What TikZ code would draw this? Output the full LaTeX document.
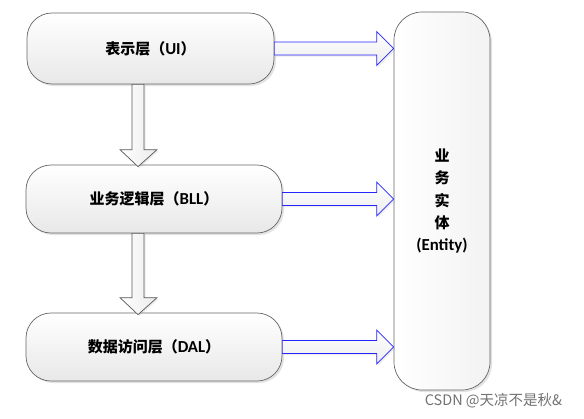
\documentclass[tikz,border=0pt]{standalone}
\usepackage{fontspec}
\setmainfont[Scale=1.12]{Carlito}
\newfontfamily\cjk{Noto Sans CJK SC}
\usetikzlibrary{shadows,calc}
\tikzset{
  layer/.style={draw=black!60, line width=0.7pt, rounded corners=25pt,
    top color=white, bottom color=black!9, minimum width=256pt, minimum height=68pt,
    inner sep=0pt, drop shadow={opacity=0.22, shadow xshift=2pt, shadow yshift=-2pt},
    font=\fontsize{15pt}{18pt}\selectfont\bfseries},
  entbox/.style={draw=black!60, line width=0.7pt, rounded corners=28pt,
    left color=white, right color=black!5, minimum width=96pt, minimum height=378pt,
    inner sep=0pt, drop shadow={opacity=0.22, shadow xshift=2pt, shadow yshift=-2pt},
    align=center, font=\fontsize{15pt}{22.3pt}\selectfont\bfseries},
  harrow/.style={draw=blue!85!white, line width=0.7pt, top color=white, bottom color=black!7,
    drop shadow={opacity=0.15, shadow xshift=1.5pt, shadow yshift=-1.5pt}},
  varrow/.style={draw=black!65, line width=0.7pt, left color=white, right color=black!8,
    drop shadow={opacity=0.15, shadow xshift=1.5pt, shadow yshift=-1.5pt}},
  mark text/.style={text=black!55, font=\cjk\fontsize{14.5pt}{17pt}\selectfont}
}
\newcommand\hblock[2]{%
  \draw[harrow] let \p1=(#1.east), \p2=(#2.west) in
    (\x1,\y1+6.5pt) -- (\x2-17pt,\y1+6.5pt) -- (\x2-17pt,\y1+17pt) -- (\x2,\y1)
    -- (\x2-17pt,\y1-17pt) -- (\x2-17pt,\y1-6.5pt) -- (\x1,\y1-6.5pt) -- cycle;}
\newcommand\vblock[2]{%
  \draw[varrow] let \p1=(#1.south), \p2=(#2.north) in
    (132pt,\y1) -- (132pt,\y2+15pt) -- (120pt,\y2+15pt) -- (138pt,\y2-2pt)
    -- (157pt,\y2+15pt) -- (144pt,\y2+15pt) -- (144pt,\y1) -- cycle;}
\begin{document}
\begin{tikzpicture}[x=1pt,y=-1pt]
\useasboundingbox[fill=white] (0,0) rectangle (584,418);
\node[layer, minimum width=247pt, minimum height=71pt] (b1) at (150.5,48.5) {{\cjk 表示层（}UI{\cjk ）}};
\node[layer] (b2) at (154,199) {{\cjk 业务逻辑层（}BLL{\cjk ）}};
\node[layer] (b3) at (154,347) {{\cjk 数据访问层（}DAL{\cjk ）}};
\node[entbox] (ent) at (442,201) {{\cjk 业}\\{\cjk 务}\\{\cjk 实}\\{\cjk 体}\\(Entity)};
\vblock{b1}{b2}
\vblock{b2}{b3}
\hblock{b1}{ent}
\hblock{b2}{ent}
\hblock{b3}{ent}
\node[mark text, anchor=east] (wm) at (566,401) {CSDN @天凉不是秋\&};
\end{tikzpicture}
\end{document}
